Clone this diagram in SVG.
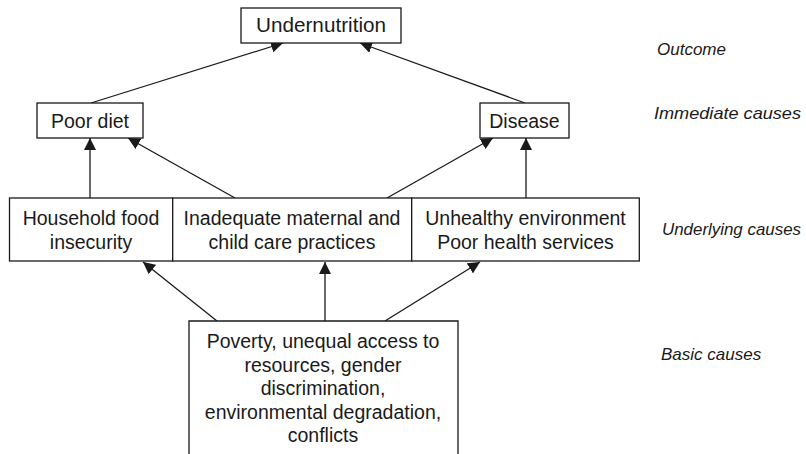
<svg xmlns="http://www.w3.org/2000/svg" width="806" height="454" viewBox="0 0 806 454">
<style>
  .box { fill: #fff; stroke: #1a1a1a; stroke-width: 1.3; }
  .t { font-family: "Liberation Sans", Arial, sans-serif; font-size: 19.5px; fill: #1a1a1a; text-anchor: middle; }
  .lbl { font-family: "Liberation Sans", Arial, sans-serif; font-size: 17px; font-style: italic; fill: #1a1a1a; }
  .c { stroke: #1a1a1a; stroke-width: 1.3; fill: none; marker-end: url(#ah); }
</style>
<defs>
  <marker id="ah" markerUnits="userSpaceOnUse" markerWidth="12" markerHeight="12" refX="12" refY="6" orient="auto">
    <path d="M0,0 L12,6 L0,12 z" fill="#1a1a1a"/>
  </marker>
</defs>
<rect width="806" height="454" fill="#fff"/>
<g id="connectors">
  <line class="c" x1="91" y1="103" x2="283" y2="43"/>
  <line class="c" x1="525" y1="103" x2="360" y2="43"/>
  <line class="c" x1="90" y1="198" x2="90" y2="138"/>
  <line class="c" x1="235" y1="198" x2="128" y2="138"/>
  <line class="c" x1="387" y1="198" x2="493" y2="138"/>
  <line class="c" x1="526" y1="198" x2="526" y2="138"/>
  <line class="c" x1="217" y1="321" x2="143" y2="262"/>
  <line class="c" x1="325" y1="321" x2="325" y2="262"/>
  <line class="c" x1="385" y1="321" x2="480" y2="262"/>
</g>
<g id="undernutrition">
  <rect class="box" x="241" y="8" width="160" height="35"/>
  <text class="t" x="321" y="32" textLength="130" lengthAdjust="spacingAndGlyphs">Undernutrition</text>
</g>
<g id="poor-diet">
  <rect class="box" x="37" y="103" width="106" height="35"/>
  <text class="t" x="90" y="128">Poor diet</text>
</g>
<g id="disease">
  <rect class="box" x="480" y="103" width="89" height="35"/>
  <text class="t" x="524.5" y="128">Disease</text>
</g>
<g id="household">
  <rect class="box" x="9.5" y="198" width="163.2" height="63"/>
  <text class="t" x="91" y="225">Household food</text>
  <text class="t" x="91" y="249">insecurity</text>
</g>
<g id="care">
  <rect class="box" x="172.7" y="198" width="239" height="63"/>
  <text class="t" x="292" y="225">Inadequate maternal and</text>
  <text class="t" x="292" y="249">child care practices</text>
</g>
<g id="environment">
  <rect class="box" x="411.7" y="198" width="227.6" height="63"/>
  <text class="t" x="525.5" y="225">Unhealthy environment</text>
  <text class="t" x="525.5" y="249">Poor health services</text>
</g>
<g id="basic">
  <path class="box" d="M189,460 V321 H458 V460"/>
  <text class="t" x="323" y="348">Poverty, unequal access to</text>
  <text class="t" x="323" y="371.5">resources, gender</text>
  <text class="t" x="323" y="395">discrimination,</text>
  <text class="t" x="323" y="418.5">environmental degradation,</text>
  <text class="t" x="323" y="442">conflicts</text>
</g>
<g id="levels">
  <text class="lbl" x="657" y="55">Outcome</text>
  <text class="lbl" x="654" y="119" textLength="147" lengthAdjust="spacingAndGlyphs">Immediate causes</text>
  <text class="lbl" x="662" y="235" textLength="139" lengthAdjust="spacingAndGlyphs">Underlying causes</text>
  <text class="lbl" x="661" y="360">Basic causes</text>
</g>
</svg>
